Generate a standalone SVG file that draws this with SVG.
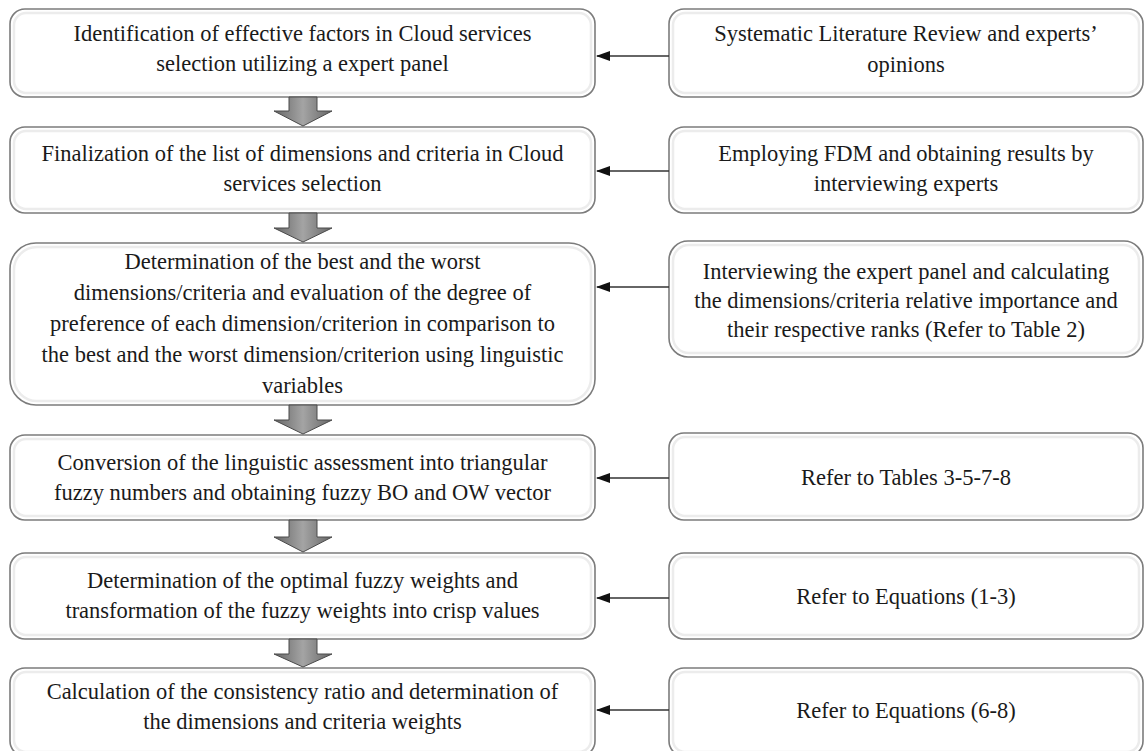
<svg xmlns="http://www.w3.org/2000/svg" width="1145" height="751" viewBox="0 0 1145 751">
  <defs>
    <linearGradient id="gArrow" x1="0" y1="0" x2="1" y2="0">
      <stop offset="0" stop-color="#666666"/>
      <stop offset="0.5" stop-color="#a4a4a4"/>
      <stop offset="1" stop-color="#666666"/>
    </linearGradient>
    <marker id="ah" viewBox="0 0 14 10" refX="13" refY="5" markerWidth="14" markerHeight="10" markerUnits="userSpaceOnUse" orient="auto">
      <path d="M0,0 L14,5 L0,10 Z" fill="#111"/>
    </marker>
  </defs>
  <style>
    .box { fill: #ffffff; stroke: #7c7c7c; stroke-width: 1.6; }
    .bev { fill: none; stroke: #ececec; stroke-width: 2.5; }
    .t { font-family: 'Liberation Serif', 'DejaVu Serif', 'Times New Roman', serif; font-size: 22.5px; fill: #1a1a1a; text-anchor: middle; }
    .conn { stroke: #333; stroke-width: 1.3; fill: none; }
    .down { fill: url(#gArrow); stroke: #4a4a4a; stroke-width: 1; }
  </style>
  <rect width="1145" height="751" fill="#ffffff"/>

  <g id="L1">
    <rect class="box" x="10" y="9" width="585" height="88" rx="15"/>
    <rect class="bev" x="14" y="13" width="577" height="80" rx="12"/>
    <text class="t" x="302.5" y="41">Identification of effective factors in Cloud services</text>
    <text class="t" x="302.5" y="71">selection utilizing a expert panel</text>
  </g>
  <g id="L2">
    <rect class="box" x="10" y="127" width="585" height="86" rx="15"/>
    <rect class="bev" x="14" y="131" width="577" height="78" rx="12"/>
    <text class="t" x="302.5" y="161">Finalization of the list of dimensions and criteria in Cloud</text>
    <text class="t" x="302.5" y="191">services selection</text>
  </g>
  <g id="L3">
    <rect class="box" x="10" y="243" width="585" height="162" rx="26"/>
    <rect class="bev" x="14" y="247" width="577" height="154" rx="23"/>
    <text class="t" x="302.5" y="269">Determination of the best and the worst</text>
    <text class="t" x="302.5" y="300">dimensions/criteria and evaluation of the degree of</text>
    <text class="t" x="302.5" y="331">preference of each dimension/criterion in comparison to</text>
    <text class="t" x="302.5" y="362">the best and the worst dimension/criterion using linguistic</text>
    <text class="t" x="302.5" y="393">variables</text>
  </g>
  <g id="L4">
    <rect class="box" x="10" y="435" width="585" height="85" rx="15"/>
    <rect class="bev" x="14" y="439" width="577" height="77" rx="12"/>
    <text class="t" x="302.5" y="470">Conversion of the linguistic assessment into triangular</text>
    <text class="t" x="302.5" y="500">fuzzy numbers and obtaining fuzzy BO and OW vector</text>
  </g>
  <g id="L5">
    <rect class="box" x="10" y="553" width="585" height="86" rx="15"/>
    <rect class="bev" x="14" y="557" width="577" height="78" rx="12"/>
    <text class="t" x="302.5" y="588">Determination of the optimal fuzzy weights and</text>
    <text class="t" x="302.5" y="618">transformation of the fuzzy weights into crisp values</text>
  </g>
  <g id="L6">
    <rect class="box" x="10" y="668" width="585" height="88" rx="15"/>
    <rect class="bev" x="14" y="672" width="577" height="80" rx="12"/>
    <text class="t" x="302.5" y="699">Calculation of the consistency ratio and determination of</text>
    <text class="t" x="302.5" y="729">the dimensions and criteria weights</text>
  </g>

  <g id="R1">
    <rect class="box" x="669" y="9" width="474" height="88" rx="15"/>
    <rect class="bev" x="673" y="13" width="466" height="80" rx="12"/>
    <text class="t" x="906" y="41">Systematic Literature Review and experts’</text>
    <text class="t" x="906" y="72">opinions</text>
  </g>
  <g id="R2">
    <rect class="box" x="669" y="127" width="474" height="86" rx="15"/>
    <rect class="bev" x="673" y="131" width="466" height="78" rx="12"/>
    <text class="t" x="906" y="161">Employing FDM and obtaining results by</text>
    <text class="t" x="906" y="191">interviewing experts</text>
  </g>
  <g id="R3">
    <rect class="box" x="669" y="241" width="474" height="116" rx="19"/>
    <rect class="bev" x="673" y="245" width="466" height="108" rx="16"/>
    <text class="t" x="906" y="279">Interviewing the expert panel and calculating</text>
    <text class="t" x="906" y="308">the dimensions/criteria relative importance and</text>
    <text class="t" x="906" y="337">their respective ranks (Refer to Table 2)</text>
  </g>
  <g id="R4">
    <rect class="box" x="669" y="433" width="474" height="87" rx="15"/>
    <rect class="bev" x="673" y="437" width="466" height="79" rx="12"/>
    <text class="t" x="906" y="485">Refer to Tables 3-5-7-8</text>
  </g>
  <g id="R5">
    <rect class="box" x="669" y="553" width="474" height="86" rx="15"/>
    <rect class="bev" x="673" y="557" width="466" height="78" rx="12"/>
    <text class="t" x="906" y="604">Refer to Equations (1-3)</text>
  </g>
  <g id="R6">
    <rect class="box" x="669" y="668" width="474" height="88" rx="15"/>
    <rect class="bev" x="673" y="672" width="466" height="80" rx="12"/>
    <text class="t" x="906" y="718">Refer to Equations (6-8)</text>
  </g>

  <g id="connectors">
    <line class="conn" x1="669" y1="56" x2="597" y2="56" marker-end="url(#ah)"/>
    <line class="conn" x1="669" y1="171" x2="597" y2="171" marker-end="url(#ah)"/>
    <line class="conn" x1="669" y1="287" x2="597" y2="287" marker-end="url(#ah)"/>
    <line class="conn" x1="669" y1="478" x2="597" y2="478" marker-end="url(#ah)"/>
    <line class="conn" x1="669" y1="598" x2="597" y2="598" marker-end="url(#ah)"/>
    <line class="conn" x1="669" y1="710" x2="597" y2="710" marker-end="url(#ah)"/>

    <path class="down" d="M289,97 L317,97 L317,111 L332,111 L303,126 L274,111 L289,111 Z"/>
    <path class="down" d="M289,213 L317,213 L317,228 L332,228 L303,242 L274,228 L289,228 Z"/>
    <path class="down" d="M289,405 L317,405 L317,420 L332,420 L303,434 L274,420 L289,420 Z"/>
    <path class="down" d="M289,520 L317,520 L317,537 L332,537 L303,552 L274,537 L289,537 Z"/>
    <path class="down" d="M289,639 L317,639 L317,654 L332,654 L303,667 L274,654 L289,654 Z"/>
  </g>
</svg>
